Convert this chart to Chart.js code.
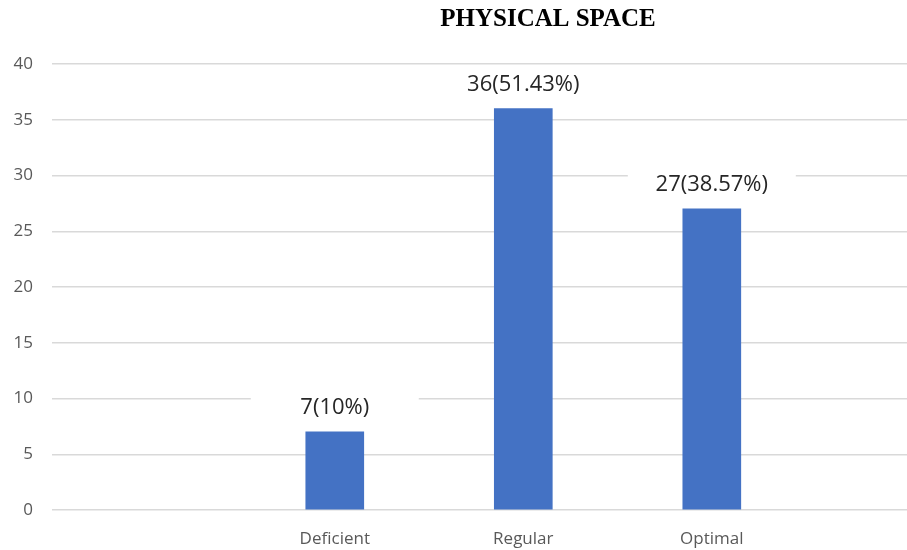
<!DOCTYPE html>
<html>
<head>
<meta charset="utf-8">
<script src="https://cdn.jsdelivr.net/npm/chart.js@4.4.1/dist/chart.umd.min.js"></script>
<style>
html,body{margin:0;padding:0;background:#fff;overflow:hidden;}
#wrap{width:907px;height:550px;position:relative;overflow:hidden;}
</style>
</head>
<body>
<div id="wrap"><canvas id="c" width="1096" height="550"></canvas></div>
<script>
const title = 'PHYSICAL SPACE';
const categories = ['Deficient', 'Regular', 'Optimal'];
const categoryPositions = [1, 2, 3];
const counts = [7, 36, 27];
const percents = ['10%', '51.43%', '38.57%'];
const yTicks = [0, 5, 10, 15, 20, 25, 30, 35, 40];

const points = categoryPositions.map((p, i) => ({ x: p, y: counts[i] }));
const labelTexts = counts.map((c, i) => c + '(' + percents[i] + ')');

const labelPlugin = {
  id: 'barLabels',
  afterDatasetsDraw(chart) {
    const ctx = chart.ctx;
    const meta = chart.getDatasetMeta(0);
    ctx.save();
    ctx.font = '22px "Open Sans", sans-serif';
    ctx.textAlign = 'center';
    ctx.textBaseline = 'middle';
    meta.data.forEach((bar, i) => {
      const cx = bar.x;
      const cy = bar.y - 24;
      ctx.fillStyle = '#ffffff';
      ctx.fillRect(cx - 84, cy - 15, 168, 30);
      ctx.fillStyle = '#262626';
      ctx.fillText(labelTexts[i], cx, cy);
    });
    ctx.restore();
  }
};

new Chart(document.getElementById('c'), {
  type: 'bar',
  data: {
    datasets: [{
      data: points,
      backgroundColor: '#4472C4',
      borderWidth: 0,
      barThickness: 58
    }]
  },
  options: {
    responsive: false,
    animation: false,
    layout: { padding: { left: 0, right: 0, top: 0, bottom: 0 } },
    plugins: {
      legend: { display: false },
      tooltip: { enabled: false },
      title: {
        display: true,
        text: title,
        color: '#000000',
        font: { family: '"Liberation Serif", "Times New Roman", serif', size: 25, weight: 'bold' },
        padding: { top: 5, bottom: 29 },
        align: 'center'
      }
    },
    scales: {
      x: {
        type: 'linear',
        offset: false,
        min: -0.5,
        max: 5.038,
        grid: { display: false, drawTicks: false },
        border: { display: false },
        afterBuildTicks(scale) {
          scale.ticks = categoryPositions.map(v => ({ value: v }));
        },
        afterFit(scale) { scale.height = 40; },
        ticks: {
          autoSkip: false,
          maxRotation: 0,
          padding: 19,
          color: '#595959',
          font: { family: '"Open Sans", sans-serif', size: 17 },
          callback: (v) => {
            const idx = categoryPositions.indexOf(v);
            return idx >= 0 ? categories[idx] : '';
          }
        }
      },
      y: {
        min: 0,
        max: 40,
        afterBuildTicks(scale) {
          scale.ticks = yTicks.map(v => ({ value: v }));
        },
        afterFit(scale) { scale.width = 52; },
        grid: { color: '#d9d9d9', lineWidth: 1.5, drawTicks: false },
        border: { display: false },
        ticks: {
          padding: 19,
          color: '#595959',
          font: { family: '"Open Sans", sans-serif', size: 17 }
        }
      }
    }
  },
  plugins: [labelPlugin]
});
</script>
</body>
</html>
